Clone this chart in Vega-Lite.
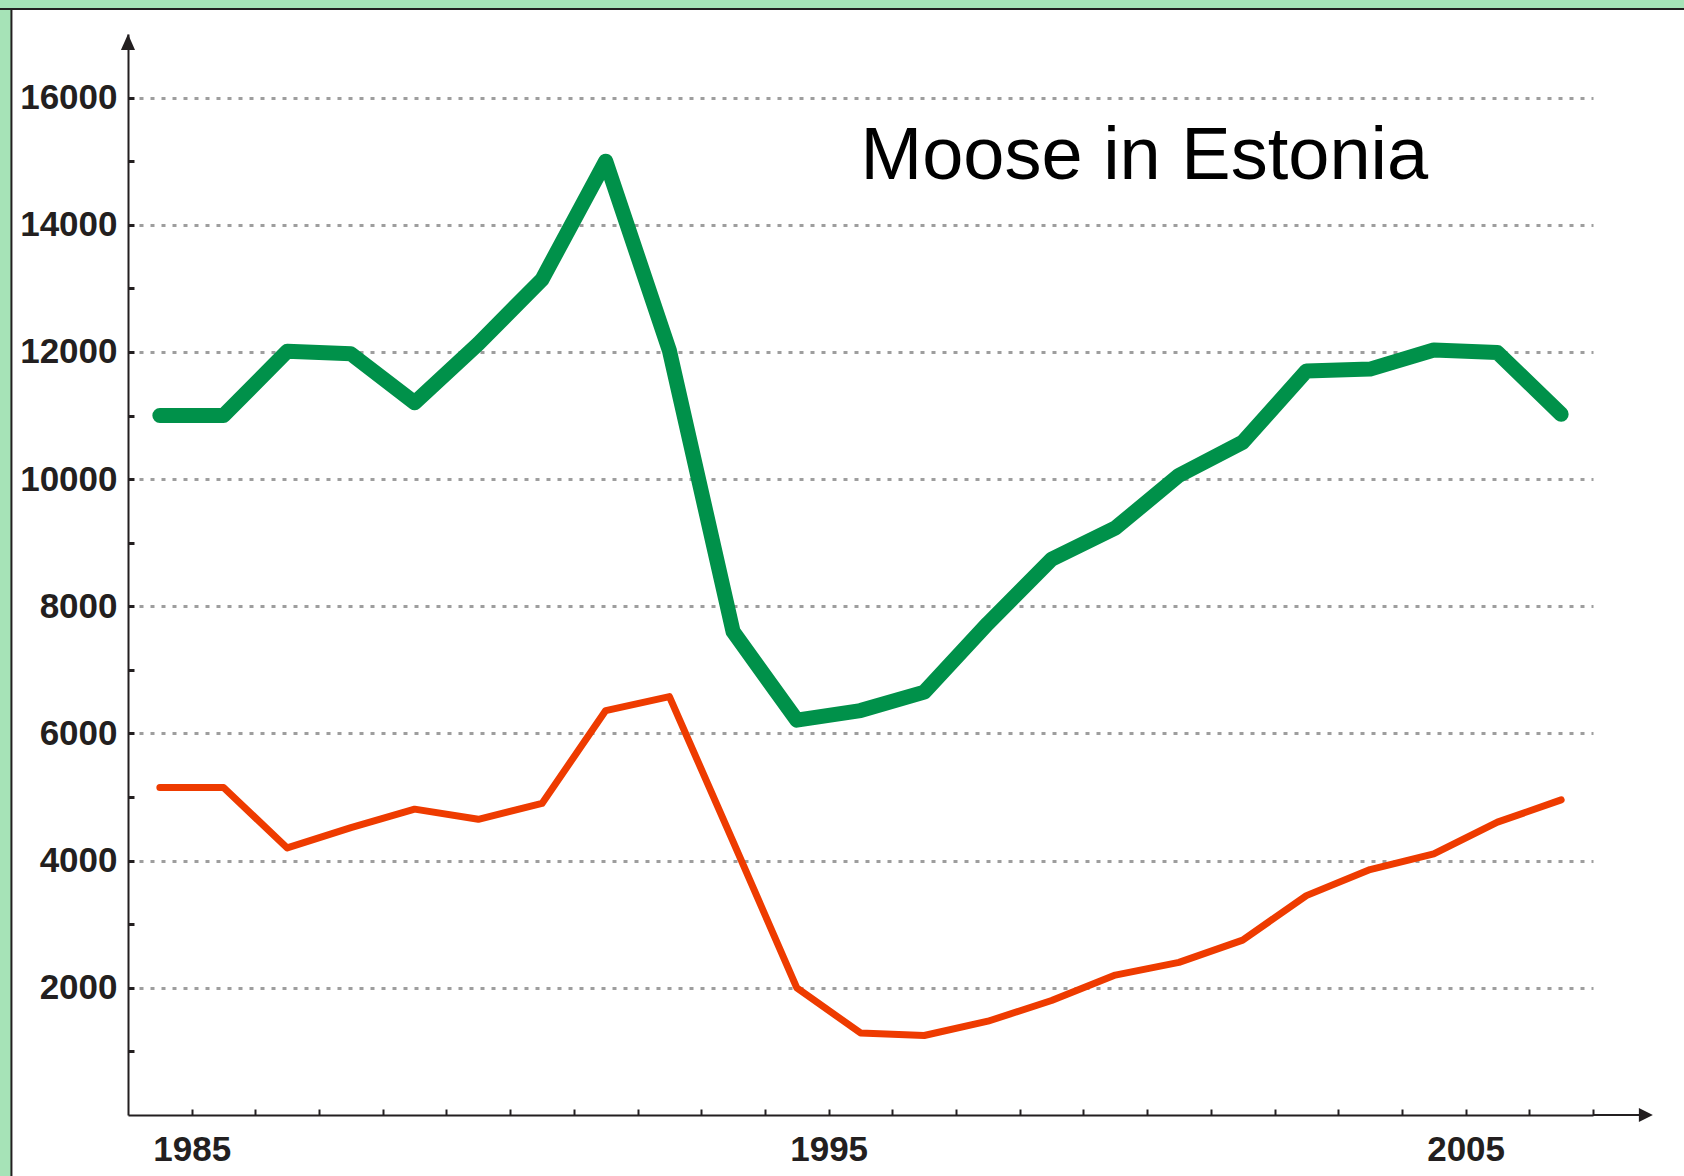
{
  "$schema": "https://vega.github.io/schema/vega-lite/v6.json",
  "autosize": "none",
  "width": 1465,
  "height": 1081,
  "padding": {"left": 128, "top": 34, "right": 91, "bottom": 61},
  "background": "#ffffff",
  "config": {
    "view": {"stroke": null},
    "axis": {
      "labelFont": "Liberation Sans",
      "labelFontWeight": "bold",
      "labelFontSize": 35,
      "labelColor": "#231f20",
      "domainColor": "#231f20",
      "domainWidth": 2,
      "tickColor": "#231f20",
      "title": null
    }
  },
  "datasets": {
    "moose": [
      {"year": 1984.5, "count": 11000, "series": "population"},
      {"year": 1985.5, "count": 11000, "series": "population"},
      {"year": 1986.5, "count": 12010, "series": "population"},
      {"year": 1987.5, "count": 11970, "series": "population"},
      {"year": 1988.5, "count": 11200, "series": "population"},
      {"year": 1989.5, "count": 12130, "series": "population"},
      {"year": 1990.5, "count": 13140, "series": "population"},
      {"year": 1991.5, "count": 15000, "series": "population"},
      {"year": 1992.5, "count": 12020, "series": "population"},
      {"year": 1993.5, "count": 7600, "series": "population"},
      {"year": 1994.5, "count": 6210, "series": "population"},
      {"year": 1995.5, "count": 6360, "series": "population"},
      {"year": 1996.5, "count": 6650, "series": "population"},
      {"year": 1997.5, "count": 7730, "series": "population"},
      {"year": 1998.5, "count": 8740, "series": "population"},
      {"year": 1999.5, "count": 9230, "series": "population"},
      {"year": 2000.5, "count": 10060, "series": "population"},
      {"year": 2001.5, "count": 10580, "series": "population"},
      {"year": 2002.5, "count": 11700, "series": "population"},
      {"year": 2003.5, "count": 11730, "series": "population"},
      {"year": 2004.5, "count": 12030, "series": "population"},
      {"year": 2005.5, "count": 11990, "series": "population"},
      {"year": 2006.5, "count": 11020, "series": "population"},
      {"year": 1984.5, "count": 5150, "series": "hunted"},
      {"year": 1985.5, "count": 5150, "series": "hunted"},
      {"year": 1986.5, "count": 4200, "series": "hunted"},
      {"year": 1987.5, "count": 4520, "series": "hunted"},
      {"year": 1988.5, "count": 4810, "series": "hunted"},
      {"year": 1989.5, "count": 4650, "series": "hunted"},
      {"year": 1990.5, "count": 4900, "series": "hunted"},
      {"year": 1991.5, "count": 6360, "series": "hunted"},
      {"year": 1992.5, "count": 6580, "series": "hunted"},
      {"year": 1993.5, "count": 4300, "series": "hunted"},
      {"year": 1994.5, "count": 2000, "series": "hunted"},
      {"year": 1995.5, "count": 1290, "series": "hunted"},
      {"year": 1996.5, "count": 1250, "series": "hunted"},
      {"year": 1997.5, "count": 1475, "series": "hunted"},
      {"year": 1998.5, "count": 1800, "series": "hunted"},
      {"year": 1999.5, "count": 2200, "series": "hunted"},
      {"year": 2000.5, "count": 2400, "series": "hunted"},
      {"year": 2001.5, "count": 2750, "series": "hunted"},
      {"year": 2002.5, "count": 3450, "series": "hunted"},
      {"year": 2003.5, "count": 3860, "series": "hunted"},
      {"year": 2004.5, "count": 4105, "series": "hunted"},
      {"year": 2005.5, "count": 4605, "series": "hunted"},
      {"year": 2006.5, "count": 4955, "series": "hunted"}
    ],
    "one": [{}]
  },
  "layer": [
    {
      "data": {"name": "one"},
      "mark": {"type": "rect", "fill": "#a6e3b7", "stroke": "#231f20", "strokeWidth": 2},
      "encoding": {
        "x": {"datum": 1975, "type": "quantitative", "scale": {"domain": [1984, 2007], "nice": false, "zero": false}},
        "x2": {"datum": 1982.17},
        "y": {"datum": 20000, "type": "quantitative", "scale": {"domain": [0, 17000], "nice": false, "zero": false}},
        "y2": {"datum": -3000}
      }
    },
    {
      "data": {"name": "one"},
      "mark": {"type": "rect", "fill": "#a6e3b7", "stroke": "#231f20", "strokeWidth": 2},
      "encoding": {
        "x": {"datum": 1975, "type": "quantitative"},
        "x2": {"datum": 2012},
        "y": {"datum": 20000, "type": "quantitative"},
        "y2": {"datum": 17393}
      }
    },
    {
      "data": {"name": "moose"},
      "transform": [{"filter": "datum.series === 'population'"}],
      "mark": {"type": "line", "color": "#00914a", "strokeWidth": 15, "strokeCap": "round", "strokeJoin": "round"},
      "encoding": {
        "x": {
          "field": "year", "type": "quantitative",
          "scale": {"domain": [1984, 2007], "nice": false, "zero": false},
          "axis": {
            "values": [1985, 1986, 1987, 1988, 1989, 1990, 1991, 1992, 1993, 1994, 1995, 1996, 1997, 1998, 1999, 2000, 2001, 2002, 2003, 2004, 2005, 2006, 2007],
            "labelExpr": "datum.value % 10 === 5 ? format(datum.value, 'd') : ''",
            "grid": false,
            "tickSize": -6,
            "tickWidth": 2,
            "labelPadding": 23,
            "labelFlush": false,
            "labelOverlap": false,
            "zindex": 1
          }
        },
        "y": {
          "field": "count", "type": "quantitative",
          "scale": {"domain": [0, 17000], "nice": false, "zero": false},
          "axis": {
            "values": [1000, 2000, 3000, 4000, 5000, 6000, 7000, 8000, 9000, 10000, 11000, 12000, 13000, 14000, 15000, 16000],
            "labelExpr": "datum.value % 2000 === 0 ? format(datum.value, 'd') : ''",
            "grid": true,
            "gridColor": "#9e9e9e",
            "gridWidth": 3,
            "gridDash": [4, 7],
            "gridOpacity": {"condition": {"test": "datum.value % 2000 === 0", "value": 1}, "value": 0},
            "tickSize": -6,
            "tickWidth": 3,
            "labelPadding": 17,
            "labelFlush": false,
            "labelOverlap": false
          }
        }
      }
    },
    {
      "data": {"name": "moose"},
      "transform": [{"filter": "datum.series === 'hunted'"}],
      "mark": {"type": "line", "color": "#ee3b00", "strokeWidth": 7, "strokeCap": "round", "strokeJoin": "round"},
      "encoding": {
        "x": {"field": "year", "type": "quantitative"},
        "y": {"field": "count", "type": "quantitative"}
      }
    },
    {
      "data": {"name": "one"},
      "mark": {"type": "text", "text": "Moose in Estonia", "font": "Liberation Sans", "fontSize": 74, "align": "left", "baseline": "alphabetic", "color": "#000000"},
      "encoding": {
        "x": {"datum": 1995.5, "type": "quantitative"},
        "y": {"datum": 14714, "type": "quantitative"}
      }
    },
    {
      "data": {"name": "one"},
      "mark": {"type": "rule", "color": "#231f20", "strokeWidth": 2},
      "encoding": {
        "x": {"datum": 2007, "type": "quantitative"},
        "x2": {"datum": 2007.8},
        "y": {"datum": 0, "type": "quantitative"}
      }
    },
    {
      "data": {"name": "one"},
      "mark": {"type": "point", "shape": "M0,0L-1,-0.5L-1,0.5Z", "size": 784, "filled": true, "color": "#231f20", "opacity": 1},
      "encoding": {
        "x": {"datum": 2007.94, "type": "quantitative"},
        "y": {"datum": 0, "type": "quantitative"}
      }
    },
    {
      "data": {"name": "one"},
      "mark": {"type": "point", "shape": "M0,0L-0.44,1L0.44,1Z", "size": 1024, "filled": true, "color": "#231f20", "opacity": 1},
      "encoding": {
        "x": {"datum": 1984, "type": "quantitative"},
        "y": {"datum": 17000, "type": "quantitative"}
      }
    }
  ]
}
